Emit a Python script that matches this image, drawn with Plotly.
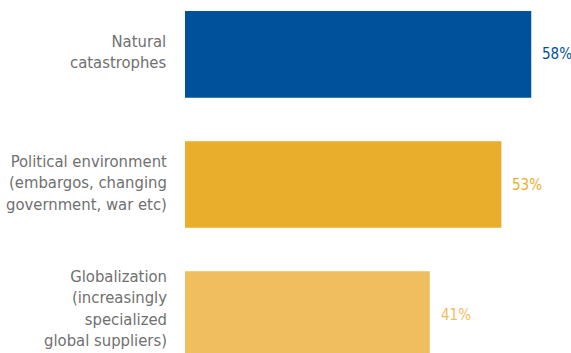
import plotly.graph_objects as go

categories = ["Natural<br>catastrophes",
              "Political environment<br>(embargos, changing<br>government, war etc)",
              "Globalization<br>(increasingly<br>specialized<br>global suppliers)"]
values = [58, 53, 41]
labels = ["58%", "53%", "41%"]
colors = ["#00519b", "#e9ae2c", "#f0be5e"]

FONT = "DejaVu Sans Condensed, Liberation Sans Narrow, Roboto, sans-serif"
label_shift = [2, 2, 6]

fig = go.Figure()
fig.add_trace(go.Bar(
    y=categories, x=values, orientation="h",
    marker=dict(color=colors, line=dict(width=0)),
    width=0.667, hoverinfo="skip",
))
for c, v, t, col, s in zip(categories, values, labels, colors, label_shift):
    fig.add_annotation(x=v, y=c, text=t, showarrow=False, xanchor="left",
                       xshift=9, font=dict(family=FONT, size=15, color=col))
    fig.add_annotation(x=0, y=c, text=c, showarrow=False, xanchor="right",
                       align="right", xshift=-16, yshift=s,
                       font=dict(family=FONT, size=16.5, color="#707070"))

fig.update_layout(
    width=571, height=353,
    margin=dict(l=185, r=0, t=0, b=0),
    paper_bgcolor="white", plot_bgcolor="white",
    showlegend=False,
    xaxis=dict(range=[0, 64.66], visible=False, fixedrange=True,
               automargin=False),
    yaxis=dict(range=[2.296, -0.419], showgrid=False, zeroline=False,
               showline=False, ticks="", showticklabels=False,
               automargin=False),
    font=dict(family=FONT),
)
fig.write_html("out.html")
